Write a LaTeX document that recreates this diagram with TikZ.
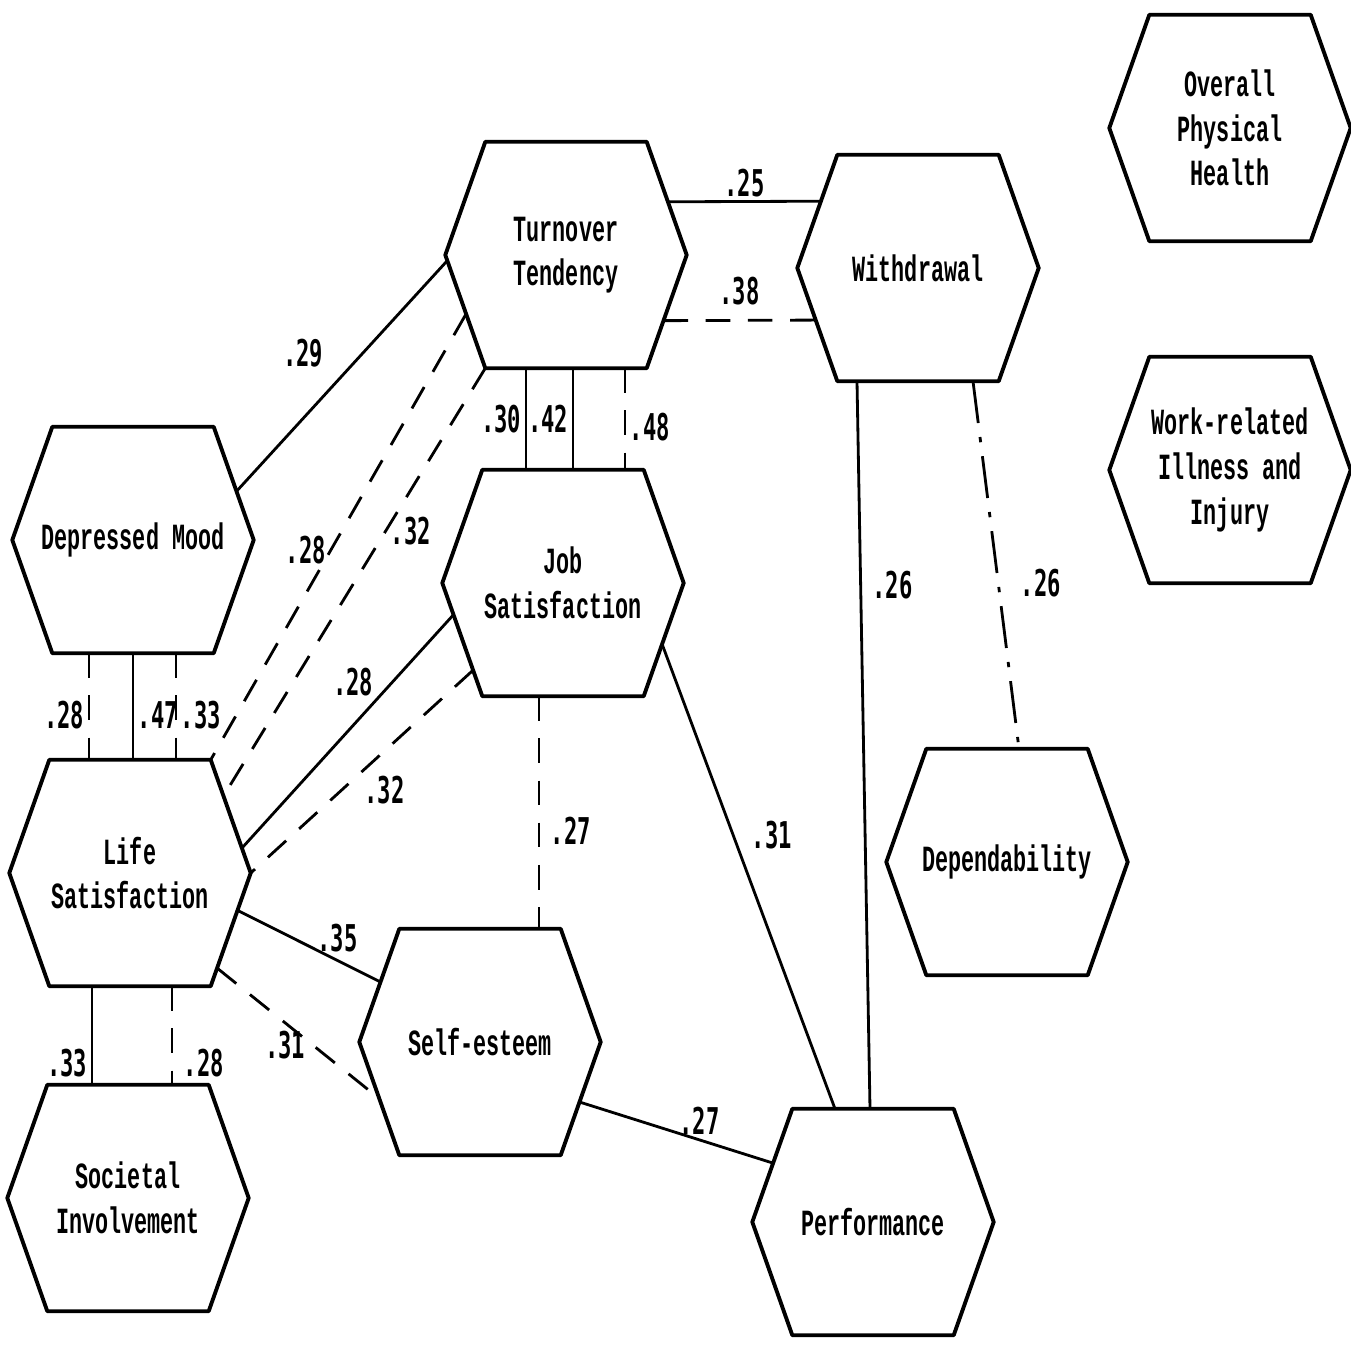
\documentclass[tikz,border=0pt]{standalone}
\usepackage{fontspec}
\newfontfamily\hexfont[FakeStretch=0.59]{Liberation Mono}
\newfontfamily\numfont[FakeStretch=0.6]{DejaVu Sans Mono}
\usetikzlibrary{calc}

\tikzset{
  hexbox/.style={minimum width=2.4cm, minimum height=2.25cm, inner sep=0pt, align=center,
    font={\hexfont\bfseries\fontsize{10.5}{12.7}\selectfont}},
  hexline/.style={line width=1.1pt, line join=round},
  link/.style={line width=0.8pt},
  dashlink/.style={link, dash pattern=on 7pt off 5pt},
  dotlink/.style={link, dash pattern=on 12pt off 4pt on 1.5pt off 4pt},
  coef/.style={inner sep=1pt, font={\numfont\bfseries\fontsize{10.5}{12}\selectfont}},
}

\begin{document}
\begin{tikzpicture}
        \path[use as bounding box, fill=white] (0,0) rectangle (13.51,-13.48);

        \node[hexbox] (oph) at (12.30,-1.28) {Overall\\Physical\\Health};
        \node[hexbox] (wri) at (12.30,-4.70) {Work-related\\Illness and\\Injury};
        \node[hexbox] (tt) at (5.66,-2.55) {Turnover\\Tendency};
        \node[hexbox] (wd) at (9.18,-2.68) {Withdrawal};
        \node[hexbox] (dm) at (1.33,-5.40) {Depressed Mood};
        \node[hexbox] (js) at (5.63,-5.83) {Job\\Satisfaction};
        \node[hexbox] (ls) at (1.30,-8.73) {Life\\Satisfaction};
        \node[hexbox] (dep) at (10.07,-8.62) {Dependability};
        \node[hexbox] (se) at (4.80,-10.42) {Self-esteem};
        \node[hexbox] (si) at (1.28,-11.98) {Societal\\Involvement};
        \node[hexbox] (perf) at (8.73,-12.22) {Performance};

        % hexagon outlines and their corners
        \foreach \n in {oph,wri,tt,wd,dm,js,ls,dep,se,si,perf}
          \draw[hexline] (\n.west) -- ([xshift=4mm]\n.north west) coordinate (\n-nw)
            -- ([xshift=-4mm]\n.north east) coordinate (\n-ne) -- (\n.east)
            -- ([xshift=-4mm]\n.south east) coordinate (\n-se)
            -- ([xshift=4mm]\n.south west) coordinate (\n-sw) -- cycle;

        % turnover tendency
        \draw[link] ($(tt.east)!0.47!(tt-ne)$) -- ($(wd.west)!0.59!(wd-nw)$) node[coef, midway, above] {.25};
        \draw[dashlink] ($(tt.east)!0.58!(tt-se)$) -- ($(wd.west)!0.46!(wd-sw)$) node[coef, midway, above=3pt] {.38};
        \draw[link] ($(tt.west)!0.05!(tt-sw)$) -- ($(dm.east)!0.43!(dm-ne)$) node[coef, pos=0.4, left=3.5mm] {.29};
        \draw[dashlink] ($(tt.west)!0.52!(tt-sw)$) -- (ls-ne) node[coef, pos=0.53, left] {.28};
        \draw[dashlink] (tt-sw) -- ($(ls.east)!0.68!(ls-ne)$) node[coef, pos=0.38, right] {.32};
        \draw[link] ($(tt.south)+(-0.40,0)$) -- ($(tt.south |- js.north)+(-0.40,0)$) node[coef, midway, left] {.30};
        \draw[link] ($(tt.south)+(0.07,0)$) -- ($(tt.south |- js.north)+(0.07,0)$) node[coef, midway, left=0pt] {.42};
        \draw[dashlink] ($(tt.south)+(0.59,0)$) -- ($(tt.south |- js.north)+(0.59,0)$) node[coef, pos=0.58, right=0pt] {.48};

        % withdrawal
        \draw[link] ($(wd.south)+(-0.61,0)$) -- ($(perf.north)+(-0.03,0)$) node[coef, pos=0.28, right=2pt] {.26};
        \draw[dotlink] ($(wd.south)+(0.55,0)$) -- ($(dep.north)+(0.12,0)$) node[coef, pos=0.55, right=5pt] {.26};

        % job satisfaction
        \draw[link] ($(js.west)!0.28!(js-sw)$) -- ($(ls.east)!0.22!(ls-ne)$) node[coef, pos=0.29, left=4pt] {.28};
        \draw[dashlink] ($(js.west)!0.77!(js-sw)$) -- (ls.east) node[coef, pos=0.59, right=5pt] {.32};
        \draw[dashlink] ($(js.south)+(-0.24,0)$) -- ($(js.south |- se.north)+(-0.24,0)$) node[coef, pos=0.58, right=2pt] {.27};
        \draw[link] ($(js.east)!0.54!(js-se)$) -- ($(perf.north)+(-0.38,0)$) node[coef, pos=0.41, right=4pt] {.31};

        % depressed mood
        \draw[dashlink] ($(dm.south)+(-0.44,0)$) -- ($(dm.south |- ls.north)+(-0.44,0)$) node[coef, pos=0.58, left=0pt] {.28};
        \draw[link] (dm.south) -- (dm.south |- ls.north) node[coef, pos=0.58, right=0pt] {.47};
        \draw[dashlink] ($(dm.south)+(0.43,0)$) -- ($(dm.south |- ls.north)+(0.43,0)$) node[coef, pos=0.58, right=0pt] {.33};

        % life satisfaction
        \draw[link] ($(ls.east)!0.33!(ls-se)$) -- ($(se.west)!0.53!(se-nw)$) node[coef, pos=0.7, above=1pt] {.35};
        \draw[dashlink] ($(ls.east)!0.84!(ls-se)$) -- ($(se.west)!0.5!(se-sw)$) node[coef, pos=0.42, below=1pt] {.31};
        \draw[link] ($(ls.south)+(-0.38,0)$) -- ($(ls.south |- si.north)+(-0.38,0)$) node[coef, pos=0.78, left=0pt] {.33};
        \draw[dashlink] ($(ls.south)+(0.42,0)$) -- ($(ls.south |- si.north)+(0.42,0)$) node[coef, pos=0.78, right=2pt] {.28};

        % self-esteem
        \draw[link] ($(se.east)!0.53!(se-se)$) -- ($(perf.west)!0.52!(perf-nw)$) node[coef, pos=0.62, above=0pt] {.27};
\end{tikzpicture}
\end{document}
